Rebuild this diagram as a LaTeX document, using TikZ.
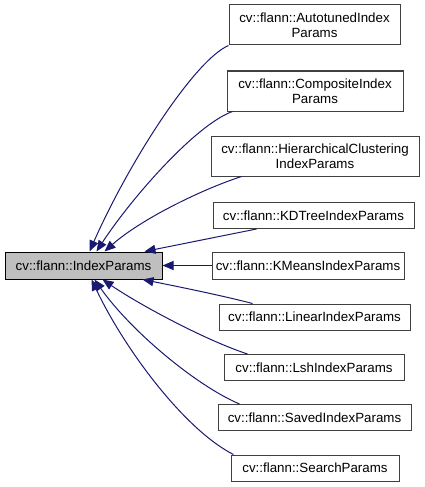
\documentclass[tikz,border=0pt]{standalone}
\usepackage{fontspec}
\setmainfont{Liberation Sans}
\usetikzlibrary{arrows.meta}
\definecolor{edgeblue}{HTML}{191970}
\definecolor{boxgray}{HTML}{404040}
\definecolor{basefill}{HTML}{BFBFBF}
\begin{document}
\begin{tikzpicture}[x=1pt,y=-1pt,
  every node/.style={font=\fontsize{13.33}{14.5}\selectfont, inner sep=0pt, align=center},
  cls/.style={draw=boxgray, fill=white, line width=1pt, minimum height=26pt},
  cls2/.style={cls, minimum height=40pt},
  basecls/.style={draw=black, fill=basefill, line width=1pt, minimum height=27pt},
  edge/.style={draw=edgeblue, line width=1pt, -{Triangle[length=11pt,width=9pt]}}]
\useasboundingbox (0,0) rectangle (424,487);
\node[basecls, minimum width=157pt] (base) at (83.5,265.5) {cv::flann::IndexParams};
\node[cls2, minimum width=171pt] (auto) at (314.5,25) {cv::flann::AutotunedIndex\\Params};
\node[cls2, minimum width=176pt] (comp) at (315,91) {cv::flann::CompositeIndex\\Params};
\node[cls2, minimum width=208pt] (hier) at (315,156) {cv::flann::HierarchicalClustering\\IndexParams};
\node[cls, minimum width=201pt] (kdt) at (313.5,215.5) {cv::flann::KDTreeIndexParams};
\node[cls, minimum width=192pt, minimum height=27pt] (kmeans) at (308,265.5) {cv::flann::KMeansIndexParams};
\node[cls, minimum width=191pt] (linear) at (314.5,317) {cv::flann::LinearIndexParams};
\node[cls, minimum width=180pt] (lsh) at (314,367.5) {cv::flann::LshIndexParams};
\node[cls, minimum width=193pt] (saved) at (314.5,417.5) {cv::flann::SavedIndexParams};
\node[cls, minimum width=168pt] (search) at (315,468) {cv::flann::SearchParams};
\draw[edge] (auto.south west) .. controls (195,60) and (130,160) .. ([xshift=85pt]base.north west);
\draw[edge] ([xshift=6pt]comp.south west) .. controls (195,125) and (130,200) .. ([xshift=92pt]base.north west);
\draw[edge] ([xshift=31pt]hier.south west) .. controls (200,190) and (140,220) .. ([xshift=100pt]base.north west);
\draw[edge] ([xshift=44pt]kdt.south west) -- ([xshift=140pt]base.north west);
\draw[edge] (kmeans.west) -- (base.east);
\draw[edge] ([xshift=34pt]linear.north west) .. controls (220,295) and (170,285) .. ([xshift=138pt]base.south west);
\draw[edge] ([xshift=24pt]lsh.north west) .. controls (205,340) and (140,305) .. ([xshift=98pt]base.south west);
\draw[edge] ([xshift=22pt]saved.north west) .. controls (195,385) and (130,330) .. ([xshift=90pt]base.south west);
\draw[edge] ([xshift=3pt]search.north west) .. controls (185,430) and (125,350) .. ([xshift=87pt]base.south west);
\end{tikzpicture}
\end{document}
